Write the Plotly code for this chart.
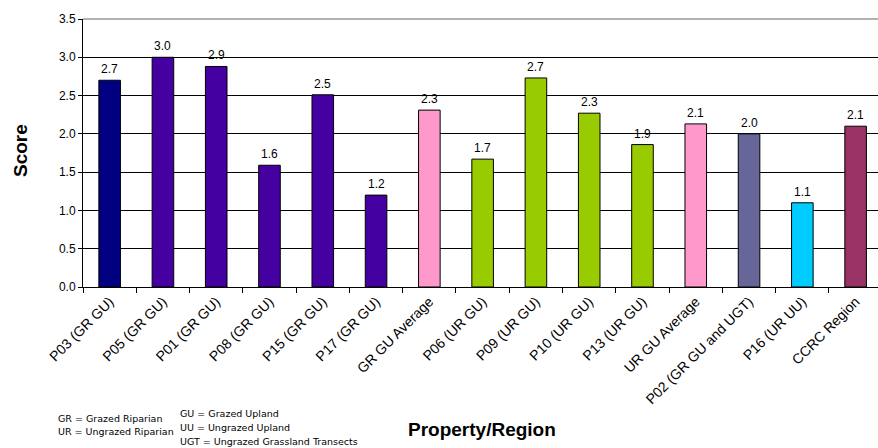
import plotly.graph_objects as go

categories = ["P03 (GR GU)", "P05 (GR GU)", "P01 (GR GU)", "P08 (GR GU)", "P15 (GR GU)",
              "P17 (GR GU)", "GR GU Average", "P06 (UR GU)", "P09 (UR GU)", "P10 (UR GU)",
              "P13 (UR GU)", "UR GU Average", "P02 (GR GU and UGT)", "P16 (UR UU)", "CCRC Region"]
scores = [2.70, 3.00, 2.88, 1.59, 2.51, 1.20, 2.31, 1.67, 2.73, 2.27, 1.86, 2.13, 2.00, 1.10, 2.10]
bar_colors = ["#000080", "#4400A0", "#4400A0", "#4400A0", "#4400A0", "#4400A0", "#FF99CC",
              "#99CC00", "#99CC00", "#99CC00", "#99CC00", "#FF99CC", "#666699", "#00CCFF", "#993366"]
y_ticks = [0.0, 0.5, 1.0, 1.5, 2.0, 2.5, 3.0, 3.5]
notes_left = ["GR = Grazed Riparian", "UR = Ungrazed Riparian"]
notes_right = ["GU = Grazed Upland", "UU = Ungrazed Upland", "UGT = Ungrazed Grassland Transects"]

FONT = "Liberation Sans, Arial, sans-serif"
W, H = 878, 448
ML, MT, MB = 83, 19, 161
PW, PH = W - ML, H - MT - MB


def px_to_paper(xp, yp):
    return (xp - ML) / PW, (H - MB - yp) / PH


fig = go.Figure()
fig.add_trace(go.Bar(
    x=categories, y=scores, width=0.405,
    marker=dict(color=bar_colors, line=dict(color="black", width=1)),
    hoverinfo="skip",
))

annotations = []
for c, v in zip(categories, scores):
    annotations.append(dict(x=c, y=v, xref="x", yref="y", text=f"{v:.1f}",
                            showarrow=False, yanchor="bottom", yshift=2,
                            font=dict(family=FONT, size=12, color="black")))

sx, sy = px_to_paper(20, 151)
annotations.append(dict(xref="paper", yref="paper", x=sx, y=sy, xanchor="center",
                        yanchor="middle", text="<b>Score</b>", showarrow=False, textangle=-90,
                        font=dict(family=FONT, size=19, color="black")))
tx, ty = px_to_paper(482, 429)
annotations.append(dict(xref="paper", yref="paper", x=tx, y=ty, xanchor="center",
                        yanchor="middle", text="<b>Property/Region</b>", showarrow=False,
                        font=dict(family=FONT, size=19, color="black")))
for i, line in enumerate(notes_left):
    nx, ny = px_to_paper(56, 418 + 14 * i)
    annotations.append(dict(xref="paper", yref="paper", x=nx, y=ny, xanchor="left",
                            yanchor="middle", text=line, showarrow=False,
                            font=dict(family="DejaVu Sans", size=9.5, color="black")))
for i, line in enumerate(notes_right):
    nx, ny = px_to_paper(178, 413 + 14 * i)
    annotations.append(dict(xref="paper", yref="paper", x=nx, y=ny, xanchor="left",
                            yanchor="middle", text=line, showarrow=False,
                            font=dict(family="DejaVu Sans", size=9.5, color="black")))

fig.update_layout(
    width=W, height=H,
    margin=dict(l=ML, r=0, t=MT, b=MB),
    paper_bgcolor="white", plot_bgcolor="white",
    showlegend=False,
    annotations=annotations,
    font=dict(family=FONT, size=12, color="black"),
    shapes=[dict(type="line", xref="paper", yref="paper", x0=0, x1=1, y0=1, y1=1,
                 line=dict(color="#999999", width=1.5), layer="above")],
    xaxis=dict(
        range=[-0.5, 14.42], tickangle=-45, tickson="boundaries",
        ticks="outside", ticklen=5, tickcolor="black",
        showline=True, linecolor="black", linewidth=1,
        showgrid=False, tickfont=dict(family=FONT, size=14, color="black"),
    ),
    yaxis=dict(
        range=[0, 3.5], tickvals=y_ticks, tickformat=".1f",
        ticks="outside", ticklen=4, tickcolor="black",
        showline=True, linecolor="black", linewidth=1,
        showgrid=True, gridcolor="black", gridwidth=1, zeroline=False,
        tickfont=dict(family=FONT, size=12, color="black"),
    ),
    bargap=0.6,
)

fig.write_html("out.html")
